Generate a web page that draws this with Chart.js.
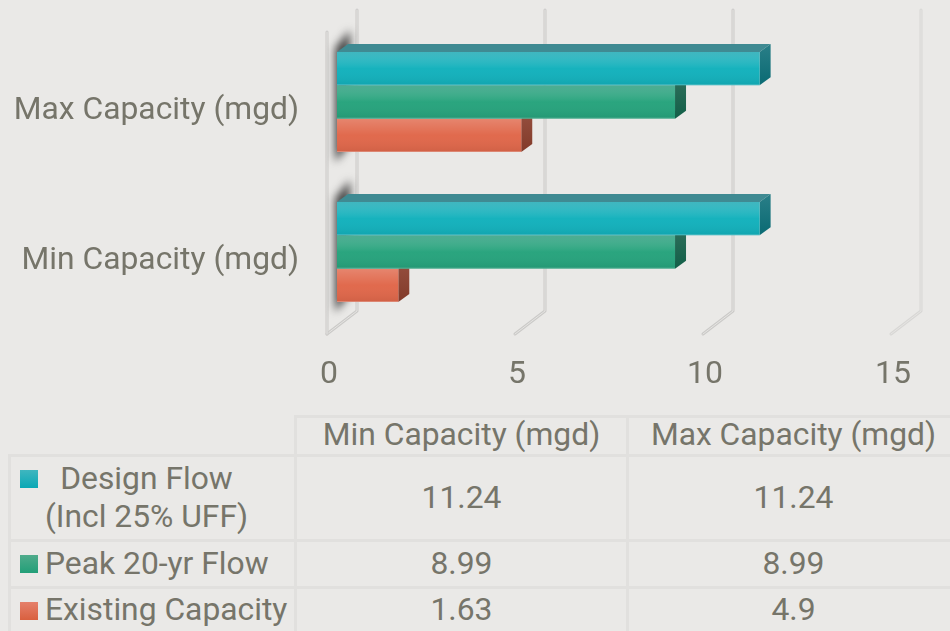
<!DOCTYPE html>
<html>
<head>
<meta charset="utf-8">
<script src="https://cdn.jsdelivr.net/npm/chart.js@4"></script>
<style>
    html, body { margin: 0; height: 100%; overflow: hidden; background: #eae9e7; }
    body { font-family: Roboto, sans-serif; color: #76756a; }
    #chartBox { position: absolute; left: 0; top: 0; width: 950px; height: 410px; }
    #dataTable {
        position: absolute; left: 8px; top: 415px; width: 950px;
        border-collapse: collapse; table-layout: fixed;
        font-size: 31.8px; line-height: 38px;
    }
    #dataTable td, #dataTable th {
        border: 3px solid #e1e0de; padding: 0 0 3px; text-align: center; font-weight: 400;
    }
    #dataTable th { line-height: 33px; }
    #dataTable th.blank { border-top: none; border-left: none; }
    #dataTable td.key { position: relative; padding-left: 0; padding-right: 12px; white-space: pre-line; }
    #dataTable td.key.single { padding-left: 34px; padding-right: 0; text-align: left; white-space: nowrap; }
    .swatch { position: absolute; left: 9px; width: 18px; height: 18px; }
</style>
</head>
<body>
<div id="chartBox"><canvas id="capacityChart"></canvas></div>
<table id="dataTable"></table>
<script>
const categories = ['Min Capacity (mgd)', 'Max Capacity (mgd)'];
const seriesNames = ['Design Flow\n(Incl 25% UFF)', 'Peak 20-yr Flow', 'Existing Capacity'];
const designFlow = [11.24, 11.24];
const peakFlow = [8.99, 8.99];
const existingCapacity = [1.63, 4.9];
const xTicks = [0, 5, 10, 15];

const frontColors = ['#12b1bc', '#26a37c', '#e0674a'];
const swatchFills = [
    'linear-gradient(#3fb6bf, #0aa8b5)',
    'linear-gradient(#4fab8b, #229f78)',
    'linear-gradient(#e5806b, #d9603f)'
];
const sheenTops = ['rgba(168, 194, 198, 0.3)', 'rgba(168, 194, 198, 0.3)', 'rgba(255, 255, 255, 0.2)'];
const sideTop = ['#2a7f88', '#2f6f5c', '#96503f'];
const sideBottom = ['#0a6a73', '#125f48', '#823a2a'];
const topFace = '#3f8a92';
const textColor = '#76756a';

// depth of the fake 3d box, px
const barDx = 11;
const barDy = 8;

const poly = (ctx, pts) => {
    ctx.beginPath();
    pts.forEach(([x, y], i) => (i ? ctx.lineTo(x, y) : ctx.moveTo(x, y)));
    ctx.closePath();
};

const gridLine = (ctx, pts, outer, inner) => {
    ctx.lineJoin = 'round';
    ctx.lineCap = 'round';
    [[3, outer], [1, inner]].forEach(([w, c]) => {
        ctx.lineWidth = w;
        ctx.strokeStyle = c;
        ctx.beginPath();
        pts.forEach(([x, y], i) => (i ? ctx.lineTo(x, y) : ctx.moveTo(x, y)));
        ctx.stroke();
    });
};

const box3d = {
    id: 'box3d',
    beforeDatasetsDraw(chart) {
        const { ctx, chartArea, scales } = chart;
        ctx.save();

        // walls and floor marks
        xTicks.forEach((tick, i) => {
            const x = scales.x.getPixelForValue(tick);
            const light = i === xTicks.length - 1;
            const outer = light ? '#d8d7d5' : '#cbcac8';
            gridLine(ctx, [
                [x + 20, chartArea.top - 17],
                [x + 20, chartArea.bottom - 16],
                [x - 10, chartArea.bottom + 7]
            ], outer, '#e6e5e3');
        });
        gridLine(ctx, [
            [scales.x.getPixelForValue(0) - 10, chartArea.top + 5],
            [scales.x.getPixelForValue(0) - 10, chartArea.bottom + 7]
        ], '#cbcac8', '#e6e5e3');

        // dark shadow on the base of each group
        const first = chart.getDatasetMeta(0).data;
        const last = chart.getDatasetMeta(chart.data.datasets.length - 1).data;
        first.forEach((bar, i) => {
            const top = bar.y - bar.height / 2;
            const bottom = last[i].y + last[i].height / 2;
            ctx.save();
            ctx.filter = 'blur(4px)';
            ctx.fillStyle = 'rgba(50, 50, 50, 0.9)';
            poly(ctx, [
                [bar.base - 2, top - 4],
                [bar.base + 13, top - 22],
                [bar.base + 13, bottom - 8],
                [bar.base - 2, bottom + 10]
            ]);
            ctx.fill();
            ctx.restore();
        });

        // top and right faces, fronts are drawn over them by Chart.js
        chart.data.datasets.forEach((ds, d) => {
            chart.getDatasetMeta(d).data.forEach((bar) => {
                const top = bar.y - bar.height / 2;
                const bottom = bar.y + bar.height / 2;
                ctx.fillStyle = topFace;
                poly(ctx, [
                    [bar.base, top],
                    [bar.base + barDx, top - barDy],
                    [bar.x + barDx, top - barDy],
                    [bar.x, top]
                ]);
                ctx.fill();
                const side = ctx.createLinearGradient(0, top - barDy, 0, bottom);
                side.addColorStop(0, sideTop[d]);
                side.addColorStop(1, sideBottom[d]);
                ctx.fillStyle = side;
                poly(ctx, [
                    [bar.x, top],
                    [bar.x + barDx, top - barDy],
                    [bar.x + barDx, bottom - barDy],
                    [bar.x, bottom]
                ]);
                ctx.fill();
            });
        });
        ctx.restore();
    },
    afterDatasetsDraw(chart) {
        const { ctx } = chart;
        ctx.save();
        // sheen on the front faces
        chart.data.datasets.forEach((ds, d) => {
            chart.getDatasetMeta(d).data.forEach((bar) => {
                const top = bar.y - bar.height / 2;
                const sheen = ctx.createLinearGradient(0, top, 0, top + bar.height);
                sheen.addColorStop(0, sheenTops[d]);
                sheen.addColorStop(0.5, 'rgba(255, 255, 255, 0.02)');
                sheen.addColorStop(1, 'rgba(0, 0, 0, 0.07)');
                ctx.fillStyle = sheen;
                ctx.fillRect(bar.base, top, bar.x - bar.base, bar.height);
                ctx.fillStyle = 'rgba(255, 255, 255, 0.25)';
                ctx.fillRect(bar.base, top + bar.height - 1, bar.x - bar.base, 1);
            });
        });
        ctx.restore();
    }
};

const chart = new Chart(document.getElementById('capacityChart'), {
    type: 'bar',
    plugins: [box3d],
    data: {
        labels: categories,
        datasets: [designFlow, peakFlow, existingCapacity].map((data, i) => ({
            label: seriesNames[i].replace('\n', ' '),
            data,
            backgroundColor: frontColors[i],
            borderWidth: 0,
            barPercentage: 1,
            categoryPercentage: 0.667
        }))
    },
    options: {
        indexAxis: 'y',
        responsive: true,
        maintainAspectRatio: false,
        animation: false,
        layout: { padding: { top: 27, right: 49, left: 0, bottom: 0 } },
        plugins: { legend: { display: false }, tooltip: { enabled: false } },
        scales: {
            x: {
                min: 0,
                max: 15,
                afterBuildTicks: (axis) => { axis.ticks = xTicks.map((value) => ({ value })); },
                afterFit: (axis) => {
                    axis.height = 83;
                    axis.paddingLeft = 0;
                    axis.paddingRight = 0;
                },
                grid: { display: false, drawTicks: false },
                border: { display: false },
                ticks: {
                    color: textColor,
                    font: { family: 'Roboto', size: 32 },
                    padding: 29,
                    labelOffset: -8,
                    maxRotation: 0
                }
            },
            y: {
                reverse: true,
                afterFit: (axis) => {
                    axis.width = 337;
                    axis.paddingTop = 0;
                    axis.paddingBottom = 0;
                },
                grid: { display: false, drawTicks: false },
                border: { display: false },
                ticks: {
                    color: textColor,
                    font: { family: 'Roboto', size: 31.8 },
                    padding: 38,
                    labelOffset: 9
                }
            }
        }
    }
});

// data table under the chart
const table = document.getElementById('dataTable');
const rowHeights = [36, 85, 47, 45];
const colWidths = [286, 332, 332];
const seriesValues = [designFlow, peakFlow, existingCapacity];

const colgroup = document.createElement('colgroup');
colWidths.forEach((w) => {
    const col = document.createElement('col');
    col.style.width = `${w}px`;
    colgroup.appendChild(col);
});
table.appendChild(colgroup);

const head = table.insertRow();
head.style.height = `${rowHeights[0]}px`;
const blank = document.createElement('th');
blank.className = 'blank';
head.appendChild(blank);
categories.forEach((name) => {
    const th = document.createElement('th');
    th.textContent = name;
    head.appendChild(th);
});

seriesNames.forEach((name, i) => {
    const row = table.insertRow();
    row.style.height = `${rowHeights[i + 1]}px`;
    const key = row.insertCell();
    key.className = name.includes('\n') ? 'key' : 'key single';
    const swatch = document.createElement('span');
    swatch.className = 'swatch';
    swatch.style.background = swatchFills[i];
    swatch.style.top = '13px';
    key.appendChild(swatch);
    key.appendChild(document.createTextNode(name));
    seriesValues[i].forEach((value) => {
        row.insertCell().textContent = value;
    });
});
</script>
</body>
</html>
